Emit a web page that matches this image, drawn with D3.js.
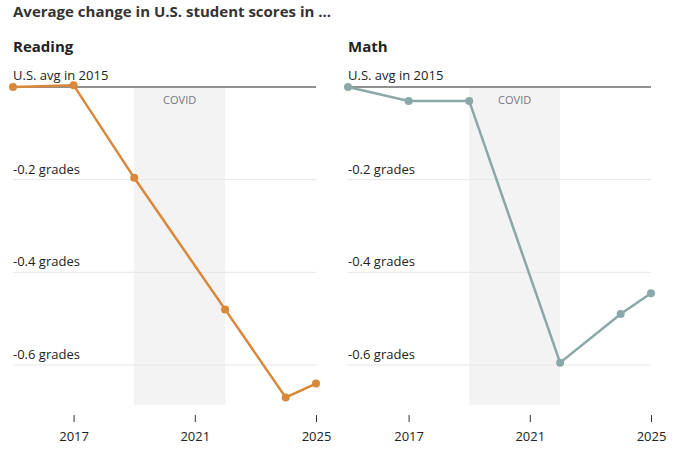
<!DOCTYPE html>
<html>
<head>
<meta charset="utf-8">
<script src="https://d3js.org/d3.v7.min.js"></script>
<style>
body{margin:0;background:#fff;font-family:"Open Sans","Liberation Sans",sans-serif;}
</style>
</head>
<body>
<svg id="c" width="680" height="470"></svg>
<script>
var years = [2015, 2017, 2019, 2022, 2024, 2025];
var reading = [0, 0.004, -0.196, -0.48, -0.67, -0.64];
var math = [0, -0.03, -0.03, -0.595, -0.49, -0.445];
var yTicks = [-0.2, -0.4, -0.6];
var yTickLabels = ["-0.2 grades", "-0.4 grades", "-0.6 grades"];
var xTicks = [2017, 2021, 2025];
var panels = [
  {name: "Reading", values: reading, color: "#d9883a", left: 13},
  {name: "Math", values: math, color: "#8aa8a8", left: 348}
];

var svg = d3.select("#c");
svg.append("text").attr("x", 13).attr("y", 17).attr("font-size", 15).attr("font-weight", 700)
  .attr("fill", "#333").text("Average change in U.S. student scores in ...");

var y = d3.scaleLinear().domain([0, -0.6]).range([87, 365]);

panels.forEach(function(p){
  var x = d3.scaleLinear().domain([2015, 2025]).range([p.left, p.left + 303]);
  var g = svg.append("g");
  g.append("text").attr("x", p.left).attr("y", 52).attr("font-size", 15).attr("font-weight", 700)
    .attr("fill", "#222").text(p.name);
  g.append("rect").attr("x", x(2019)).attr("y", 88).attr("width", x(2022) - x(2019))
    .attr("height", 405 - 88).attr("fill", "#f3f3f3");
  g.append("text").attr("x", (x(2019) + x(2022)) / 2).attr("y", 104).attr("text-anchor", "middle")
    .attr("font-size", 11).attr("fill", "#777").text("COVID");
  yTicks.forEach(function(t, i){
    g.append("line").attr("x1", p.left).attr("x2", p.left + 303).attr("y1", y(t)).attr("y2", y(t))
      .attr("stroke", "#e6e6e6");
    g.append("text").attr("x", p.left).attr("y", y(t) - 6).attr("font-size", 13).attr("fill", "#222")
      .text(yTickLabels[i]);
  });
  g.append("line").attr("x1", p.left).attr("x2", p.left + 303).attr("y1", y(0)).attr("y2", y(0))
    .attr("stroke", "#222").attr("stroke-width", 1.2);
  g.append("text").attr("x", p.left).attr("y", y(0) - 7).attr("font-size", 13).attr("fill", "#222")
    .text("U.S. avg in 2015");
  var ax = g.append("g").attr("transform", "translate(0,415)")
    .call(d3.axisBottom(x).tickValues(xTicks).tickFormat(d3.format("d")).tickSize(7));
  ax.select(".domain").remove();
  ax.selectAll("line").attr("stroke", "#333");
  ax.selectAll("text").attr("font-size", 13).attr("fill", "#222").attr("dy", "1.2em")
    .attr("font-family", "Open Sans, sans-serif");
  var line = d3.line().x(function(d, i){ return x(years[i]); }).y(function(d){ return y(d); });
  g.append("path").datum(p.values).attr("d", line).attr("fill", "none")
    .attr("stroke", p.color).attr("stroke-width", 2.5);
  g.selectAll("circle").data(p.values).enter().append("circle")
    .attr("cx", function(d, i){ return x(years[i]); }).attr("cy", function(d){ return y(d); })
    .attr("r", 4).attr("fill", p.color);
});
</script>
</body>
</html>
